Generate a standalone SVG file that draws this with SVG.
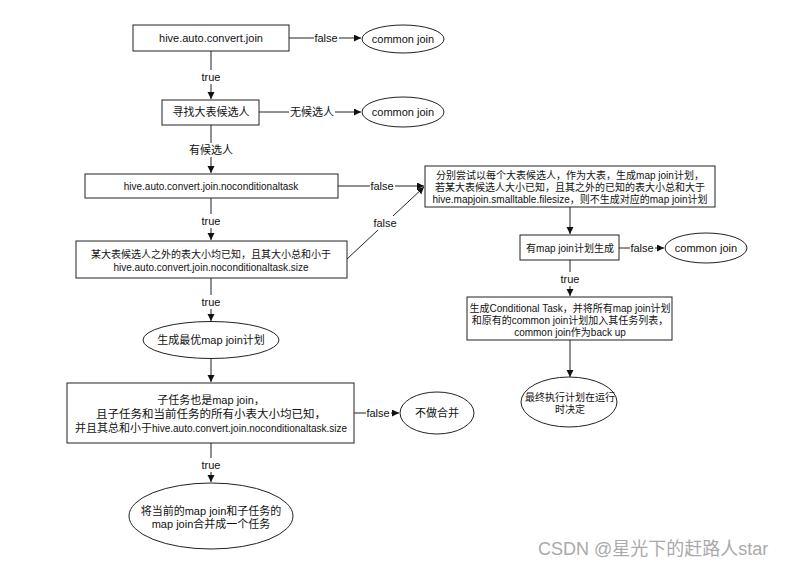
<svg xmlns="http://www.w3.org/2000/svg" width="798" height="568" viewBox="0 0 798 568">
<style>
.n{fill:#fff;stroke:#222;stroke-width:1}
.t{font-family:"Liberation Sans","Noto Sans CJK SC",sans-serif;fill:#111;text-anchor:middle;dominant-baseline:central}
.c{stroke:#222;stroke-width:1;fill:none;marker-end:url(#ah)}
.lb{fill:#fff}
</style>
<defs>
<marker id="ah" markerWidth="8" markerHeight="8" refX="7" refY="3.5" orient="auto" markerUnits="userSpaceOnUse">
<path d="M0,0 L7,3.5 L0,7 z" fill="#111"/>
</marker>
</defs>
<rect width="798" height="568" fill="#fff"/>
<g id="connectors">
<path class="c" d="M289,38 H361"/>
<path class="c" d="M211,51 V99"/>
<path class="c" d="M259,112 H361"/>
<path class="c" d="M211,125 V173"/>
<path class="c" d="M211,198 V240"/>
<path class="c" d="M338,186 H424"/>
<path class="c" d="M347,259 L424,187"/>
<path class="c" d="M211,278 V321"/>
<path class="c" d="M211,359 V382"/>
<path class="c" d="M354,413 H399"/>
<path class="c" d="M211,443 V482"/>
<path class="c" d="M570,207 V234"/>
<path class="c" d="M619,248 H664"/>
<path class="c" d="M570,260 V296"/>
<path class="c" d="M570,340 V377"/>
<g id="labels">
<rect class="lb" x="314" y="31" width="25" height="14"/><text class="t" x="326" y="38" font-size="11">false</text>
<rect class="lb" x="200" y="70" width="22" height="14"/><text class="t" x="211" y="77" font-size="11">true</text>
<rect class="lb" x="289" y="105" width="46" height="14"/><text class="t" x="312" y="112" font-size="11">无候选人</text>
<rect class="lb" x="188" y="143" width="46" height="14"/><text class="t" x="211" y="150" font-size="11">有候选人</text>
<rect class="lb" x="200" y="214" width="22" height="14"/><text class="t" x="211" y="221" font-size="11">true</text>
<rect class="lb" x="370" y="179" width="25" height="14"/><text class="t" x="382" y="186" font-size="11">false</text>
<rect class="lb" x="373" y="216" width="25" height="14"/><text class="t" x="385" y="223" font-size="11">false</text>
<rect class="lb" x="200" y="295" width="22" height="14"/><text class="t" x="211" y="302" font-size="11">true</text>
<rect class="lb" x="366" y="406" width="25" height="14"/><text class="t" x="378" y="413" font-size="11">false</text>
<rect class="lb" x="200" y="458" width="22" height="14"/><text class="t" x="211" y="465" font-size="11">true</text>
<rect class="lb" x="630" y="241" width="25" height="14"/><text class="t" x="642" y="248" font-size="11">false</text>
<rect class="lb" x="559" y="272" width="22" height="14"/><text class="t" x="570" y="279" font-size="11">true</text>
</g>
</g>
<g id="n1"><rect class="n" x="133" y="25" width="156" height="26"/><text class="t" x="211" y="38" font-size="11">hive.auto.convert.join</text></g>
<g id="n2"><ellipse class="n" cx="403" cy="39" rx="41" ry="14"/><text class="t" x="403" y="39" font-size="11">common join</text></g>
<g id="n3"><rect class="n" x="162" y="100" width="97" height="25"/><text class="t" x="211" y="112" font-size="11">寻找大表候选人</text></g>
<g id="n4"><ellipse class="n" cx="403" cy="112" rx="41" ry="15"/><text class="t" x="403" y="112" font-size="11">common join</text></g>
<g id="n5"><rect class="n" x="85" y="174" width="253" height="24"/><text class="t" x="211" y="186" font-size="10">hive.auto.convert.join.noconditionaltask</text></g>
<g id="n6"><rect class="n" x="76" y="241" width="271" height="37"/><text class="t" x="211" y="254" font-size="10">某大表候选人之外的表大小均已知，且其大小总和小于</text><text class="t" x="211" y="267" font-size="10">hive.auto.convert.join.noconditionaltask.size</text></g>
<g id="n7"><rect class="n" x="425" y="166" width="290" height="41"/><text class="t" x="570" y="175" font-size="10">分别尝试以每个大表候选人，作为大表，生成map join计划，</text><text class="t" x="570" y="187" font-size="10">若某大表候选人大小已知，且其之外的已知的表大小总和大于</text><text class="t" x="570" y="199" font-size="10">hive.mapjoin.smalltable.filesize，则不生成对应的map join计划</text></g>
<g id="n8"><rect class="n" x="520" y="235" width="99" height="25"/><text class="t" x="570" y="248" font-size="10">有map join计划生成</text></g>
<g id="n9"><ellipse class="n" cx="706" cy="248" rx="41" ry="15"/><text class="t" x="706" y="248" font-size="11">common join</text></g>
<g id="n10"><rect class="n" x="467" y="297" width="205" height="43"/><text class="t" x="570" y="308" font-size="10">生成Conditional Task，并将所有map join计划</text><text class="t" x="570" y="320" font-size="10">和原有的common join计划加入其任务列表，</text><text class="t" x="570" y="332" font-size="10">common join作为back up</text></g>
<g id="n11"><ellipse class="n" cx="569" cy="402" rx="48" ry="25"/><text class="t" x="570" y="397" font-size="10">最终执行计划在运行</text><text class="t" x="570" y="409" font-size="10">时决定</text></g>
<g id="n12"><ellipse class="n" cx="211" cy="340" rx="68" ry="18.5"/><text class="t" x="211" y="340" font-size="11">生成最优map join计划</text></g>
<g id="n13"><rect class="n" x="67" y="383" width="287" height="60"/><text class="t" x="211" y="400" font-size="11">子任务也是map join，</text><text class="t" x="211" y="414" font-size="11.5">且子任务和当前任务的所有小表大小均已知，</text><text class="t" x="211" y="428" font-size="11">并且其总和小于<tspan font-size="10">hive.auto.convert.join.noconditionaltask.size</tspan></text></g>
<g id="n14"><ellipse class="n" cx="437" cy="413" rx="37" ry="21"/><text class="t" x="437" y="413" font-size="11">不做合并</text></g>
<g id="n15"><ellipse class="n" cx="211" cy="516" rx="82" ry="33"/><text class="t" x="211" y="511" font-size="11">将当前的map join和子任务的</text><text class="t" x="211" y="524" font-size="11">map join合并成一个任务</text></g>
<text x="538" y="555" font-family="Liberation Sans,Noto Sans CJK SC,sans-serif" font-size="18" fill="#aaa">CSDN @星光下的赶路人star</text>
</svg>
